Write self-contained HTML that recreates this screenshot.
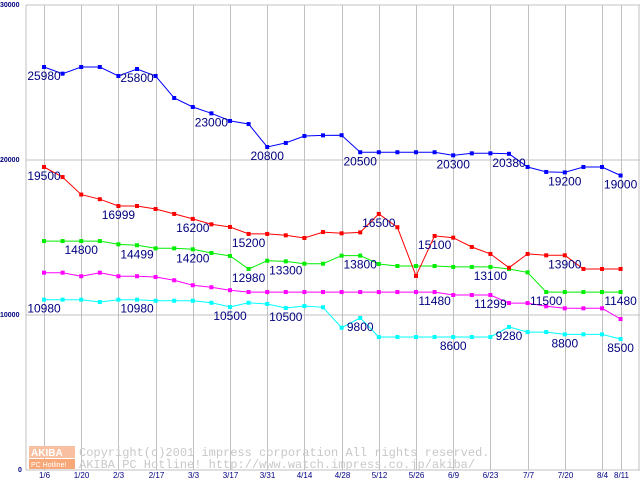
<!DOCTYPE html>
<html><head><meta charset="utf-8"><style>
html,body{margin:0;padding:0;background:#fff;}
svg{display:block;}
</style></head><body>
<svg id="chart" width="640" height="480" xmlns="http://www.w3.org/2000/svg" font-family="Liberation Sans, sans-serif">
<g id="grid"></g>
<g id="logo">
<rect x="29" y="446" width="46" height="12" fill="#f8c0a0"/>
<rect x="29" y="459" width="46" height="10" fill="#f8a878"/>
<text x="31" y="456" font-size="10" fill="#fff" font-weight="bold">AKIBA</text>
<text x="31" y="467" font-size="7" fill="#fff">PC Hotline!</text>
<text x="79" y="456" font-size="12" fill="#c8c8c8" font-family="Liberation Mono, monospace">Copyright(c)2001 impress corporation All rights reserved.</text>
<text x="79" y="468" font-size="12" fill="#c8c8c8" font-family="Liberation Mono, monospace">AKIBA PC Hotline!  http://www.watch.impress.co.jp/akiba/</text>
</g>
<g id="series"></g>
<g id="labels"></g>
</svg>
<script>
const xTickLabels=['1/6','1/20','2/3','2/17','3/3','3/17','3/31','4/14','4/28','5/12','5/26','6/9','6/23','7/7','7/20','8/4','8/11'];
const xTickIndex=[0,2,4,6,8,10,12,14,16,18,20,22,24,26,28,30,31];
const yTicks=[0,10000,20000,30000];
const blueVals=[26000,25570,26000,26000,25420,25870,25420,24000,23420,23010,22520,22320,20840,21100,21550,21590,21600,20500,20500,20500,20500,20500,20300,20430,20430,20400,19550,19230,19200,19550,19550,19000];
const redVals=[19550,18900,17770,17470,17030,17030,16840,16520,16200,15850,15680,15230,15230,15140,14970,15350,15270,15330,16520,15660,12520,15100,14990,14390,13940,13050,13940,13850,13850,12970,12970,12970];
const greenVals=[14770,14770,14770,14770,14560,14500,14300,14300,14240,14000,13810,12970,13500,13460,13310,13310,13830,13830,13290,13160,13160,13160,13100,13100,13100,12970,12750,11480,11480,11480,11480,11480];
const magentaVals=[12730,12730,12500,12730,12500,12500,12450,12240,11920,11790,11600,11480,11480,11480,11480,11480,11480,11480,11480,11480,11480,11480,11290,11290,11290,10770,10770,10560,10430,10430,10430,9740];
const cyanVals=[10990,10990,10990,10840,10990,10990,10920,10920,10920,10790,10520,10790,10710,10450,10580,10500,9180,9810,8580,8580,8580,8580,8580,8580,8580,9230,8900,8900,8750,8750,8750,8450];
const blueLabels=[[0,'25980'],[5,'25800'],[9,'23000'],[12,'20800'],[17,'20500'],[22,'20300'],[25,'20380'],[28,'19200'],[31,'19000']];
const redLabels=[[0,'19500'],[4,'16999'],[8,'16200'],[11,'15200'],[18,'16500'],[21,'15100'],[28,'13900']];
const greenLabels=[[2,'14800'],[5,'14499'],[8,'14200'],[11,'12980'],[13,'13300'],[17,'13800'],[24,'13100'],[27,'11500'],[31,'11480']];
const magentaLabels=[[21,'11480'],[24,'11299']];
const cyanLabels=[[0,'10980'],[5,'10980'],[10,'10500'],[13,'10500'],[17,'9800'],[22,'8600'],[25,'9280'],[28,'8800'],[31,'8500']];

const NS='http://www.w3.org/2000/svg';
function xS(i){return 44+i*18.6;}
function yS(v){return 470-v*465/30000;}
function mk(tag,attrs,parent){const e=document.createElementNS(NS,tag);for(const k in attrs)e.setAttribute(k,attrs[k]);parent.appendChild(e);return e;}
const grid=document.getElementById('grid');
yTicks.forEach(v=>{
  const l=mk('line',{x1:26,x2:640,y1:yS(v),y2:yS(v),stroke:'#c0c0c0','stroke-width':1},grid);
  
  
  const t=mk('text',{x:0,y:yS(v)+2,'font-size':7,'font-weight':'bold',fill:'#000080'},grid);
  t.textContent=String(v);
  if(v===0)t.setAttribute('x',18);
  
  
});
[26,639].forEach(x=>{const l=mk('line',{x1:x,x2:x,y1:5,y2:470,stroke:'#c0c0c0'},grid);
  
  });
xTickIndex.forEach((idx,k)=>{
  const x=Math.round(xS(idx))+0.5;
  const l=mk('line',{x1:x,x2:x,y1:5,y2:470,stroke:'#c0c0c0'},grid);
  
  
  const t=mk('text',{x:x,y:478,'font-size':8,fill:'#000080','text-anchor':'middle'},grid);
  t.textContent=xTickLabels[k];
  
  
});
const sg=document.getElementById('series');
const lg=document.getElementById('labels');
function drawSeries(vals,color,name){
  const g=mk('g',{},sg);
  
  
  const pts=vals.map((v,i)=>xS(i).toFixed(1)+','+yS(v).toFixed(1)).join(' ');
  const p=mk('polyline',{points:pts,fill:'none',stroke:color,'stroke-width':1},g);
  
  
  vals.forEach((v,i)=>{
    const r=mk('rect',{x:xS(i)-2,y:yS(v)-2,width:4,height:4,fill:color},g);
    
    
  });
}
function drawLabels(vals,labels,name){
  labels.forEach(([i,txt])=>{
    const t=mk('text',{x:xS(i),y:yS(vals[i])+13,'font-size':12,fill:'#000080','text-anchor':'middle'},lg);
    t.textContent=txt;
    
    
  });
}
drawSeries(cyanVals,'#00ffff','cyan');
drawSeries(magentaVals,'#ff00ff','magenta');
drawSeries(greenVals,'#00ee00','green');
drawSeries(redVals,'#ff0000','red');
drawSeries(blueVals,'#0000ff','blue');
drawLabels(blueVals,blueLabels,'blue');
drawLabels(redVals,redLabels,'red');
drawLabels(greenVals,greenLabels,'green');
drawLabels(magentaVals,magentaLabels,'magenta');
drawLabels(cyanVals,cyanLabels,'cyan');
</script>
</body></html>
